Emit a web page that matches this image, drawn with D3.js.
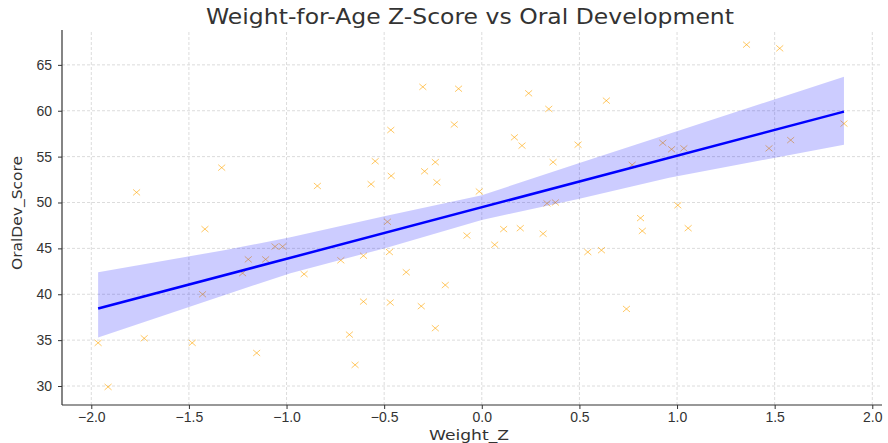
<!DOCTYPE html>
<html>
<head>
  <meta charset="utf-8">
  <title>Weight-for-Age Z-Score vs Oral Development</title>
  <style>
    body {
      margin: 0;
      padding: 0;
      background: white;
      font-family: "DejaVu Sans", sans-serif;
    }
    .tick text {
      font-size: 14px;
      fill: #333;
    }
    .grid line {
      stroke: #dcdcdc;
      stroke-dasharray: 3,2;
    }
  </style>
</head>
<body>
  <div id="chart"></div>
  <script src="https://d3js.org/d3.v7.min.js"></script>
  <script>
    // scatter values
    const weightZ = [-1.965, -1.914, -1.768, -1.729, -1.483, -1.430, -1.418, -1.332, -1.225, -1.196,
      -1.153, -1.107, -1.059, -1.020, -0.910, -0.842, -0.722, -0.678, -0.649, -0.606,
      -0.606, -0.567, -0.546, -0.483, -0.473, -0.469, -0.466, -0.464, -0.387, -0.310,
      -0.302, -0.293, -0.238, -0.238, -0.230, -0.187, -0.141, -0.119, -0.076, -0.013,
      0.066, 0.112, 0.167, 0.197, 0.206, 0.240, 0.314, 0.334, 0.343, 0.365,
      0.377, 0.493, 0.543, 0.613, 0.638, 0.741, 0.770, 0.813, 0.822, 0.927,
      0.972, 1.004, 1.035, 1.057, 1.356, 1.471, 1.526, 1.582, 1.855];
    const oralDev = [34.7, 29.9, 51.1, 35.2, 34.7, 40.0, 47.1, 53.8, 42.3, 43.8,
      33.6, 43.8, 45.2, 45.2, 42.2, 51.8, 43.7, 35.6, 32.3, 44.2,
      39.2, 52.0, 54.5, 47.9, 44.6, 39.1, 57.9, 52.9, 42.4, 38.7,
      62.6, 53.4, 54.4, 36.3, 52.2, 41.0, 58.5, 62.4, 46.4, 51.2,
      45.4, 47.1, 57.1, 47.2, 56.2, 61.9, 46.6, 49.9, 60.2, 54.4,
      50.0, 56.3, 44.6, 44.8, 61.1, 38.4, 54.1, 48.3, 46.9, 56.5,
      55.8, 49.7, 55.9, 47.2, 67.2, 55.9, 66.8, 56.8, 58.6];

    // fitted line ends and confidence band
    const fitX = [-1.965, 1.855];
    const fitY = [38.44, 59.9];
    const bandX = [-1.965, -1.32, -0.98, -0.5, 0.0, 0.5, 0.96, 1.855];
    const bandUpper = [42.4, 44.8, 46.2, 48.5, 50.8, 54.3, 57.5, 63.7];
    const bandLower = [35.3, 39.9, 42.3, 45.0, 48.1, 50.4, 52.7, 56.3];

    const xTicks = [-2.0, -1.5, -1.0, -0.5, 0.0, 0.5, 1.0, 1.5, 2.0];
    const yTicks = [30, 35, 40, 45, 50, 55, 60, 65];

    const W = 888, H = 443;
    const margin = { top: 30, right: 6, bottom: 38, left: 62 };

    const svg = d3.select("#chart")
      .append("svg")
      .attr("width", W)
      .attr("height", H);

    const x = d3.scaleLinear().domain([-2.15, 2.05]).range([margin.left, margin.left + 4.2 * 195.25]);
    const y = d3.scaleLinear().domain([27.93, 68.8]).range([H - margin.bottom, margin.top]);

    // grid
    svg.append("g")
      .attr("class", "grid")
      .selectAll("line.v")
      .data(xTicks)
      .enter()
      .append("line")
      .attr("x1", d => x(d)).attr("x2", d => x(d))
      .attr("y1", y.range()[0]).attr("y2", y.range()[1]);

    svg.append("g")
      .attr("class", "grid")
      .selectAll("line.h")
      .data(yTicks)
      .enter()
      .append("line")
      .attr("x1", x.range()[0]).attr("x2", x.range()[1])
      .attr("y1", d => y(d)).attr("y2", d => y(d));

    // points
    const pts = weightZ.map((d, i) => ({ x: d, y: oralDev[i] }));
    svg.append("g")
      .selectAll("path")
      .data(pts)
      .enter()
      .append("path")
      .attr("transform", d => `translate(${x(d.x)},${y(d.y)})`)
      .attr("d", "M-3.5,-3L3.5,3M-3.5,3L3.5,-3")
      .attr("stroke", "orange")
      .attr("stroke-opacity", 0.6)
      .attr("stroke-width", 1)
      .attr("fill", "none");

    // confidence band
    const band = bandX.map((d, i) => ({ x: d, hi: bandUpper[i], lo: bandLower[i] }));
    svg.append("path")
      .datum(band)
      .attr("d", d3.area().x(d => x(d.x)).y0(d => y(d.lo)).y1(d => y(d.hi)))
      .attr("fill", "rgba(0,0,255,0.2)");

    // regression line
    svg.append("path")
      .datum(fitX.map((d, i) => ({ x: d, y: fitY[i] })))
      .attr("d", d3.line().x(d => x(d.x)).y(d => y(d.y)))
      .attr("stroke", "blue")
      .attr("stroke-width", 2.5)
      .attr("fill", "none");

    // axes
    const xAxis = svg.append("g")
      .attr("transform", `translate(0,${y.range()[0]})`)
      .call(d3.axisBottom(x).tickValues(xTicks).tickFormat(d3.format(".1f")).tickSize(4).tickPadding(3));
    const yAxis = svg.append("g")
      .attr("transform", `translate(${x.range()[0]},0)`)
      .call(d3.axisLeft(y).tickValues(yTicks).tickSize(4).tickPadding(6));
    [xAxis, yAxis].forEach(g => {
      g.selectAll(".domain").attr("stroke", "#333").attr("stroke-width", 1.2);
      g.selectAll(".tick line").attr("stroke", "#333");
    });
    xAxis.select(".domain").attr("d", `M${x.range()[0]},0H${x.range()[1]}`);
    yAxis.select(".domain").attr("d", `M0,${y.range()[0]}V${y.range()[1]}`);

    // labels
    svg.append("text")
      .attr("x", 470)
      .attr("y", 24)
      .attr("text-anchor", "middle")
      .attr("font-size", 21)
      .attr("textLength", 528)
      .attr("lengthAdjust", "spacingAndGlyphs")
      .attr("fill", "#333")
      .text("Weight-for-Age Z-Score vs Oral Development");

    svg.append("text")
      .attr("x", 469)
      .attr("y", 440)
      .attr("text-anchor", "middle")
      .attr("font-size", 14)
      .attr("textLength", 80)
      .attr("lengthAdjust", "spacingAndGlyphs")
      .attr("fill", "#333")
      .text("Weight_Z");

    svg.append("text")
      .attr("transform", "translate(22,213) rotate(-90)")
      .attr("text-anchor", "middle")
      .attr("font-size", 14)
      .attr("textLength", 114)
      .attr("lengthAdjust", "spacingAndGlyphs")
      .attr("fill", "#333")
      .text("OralDev_Score");
  </script>
</body>
</html>
